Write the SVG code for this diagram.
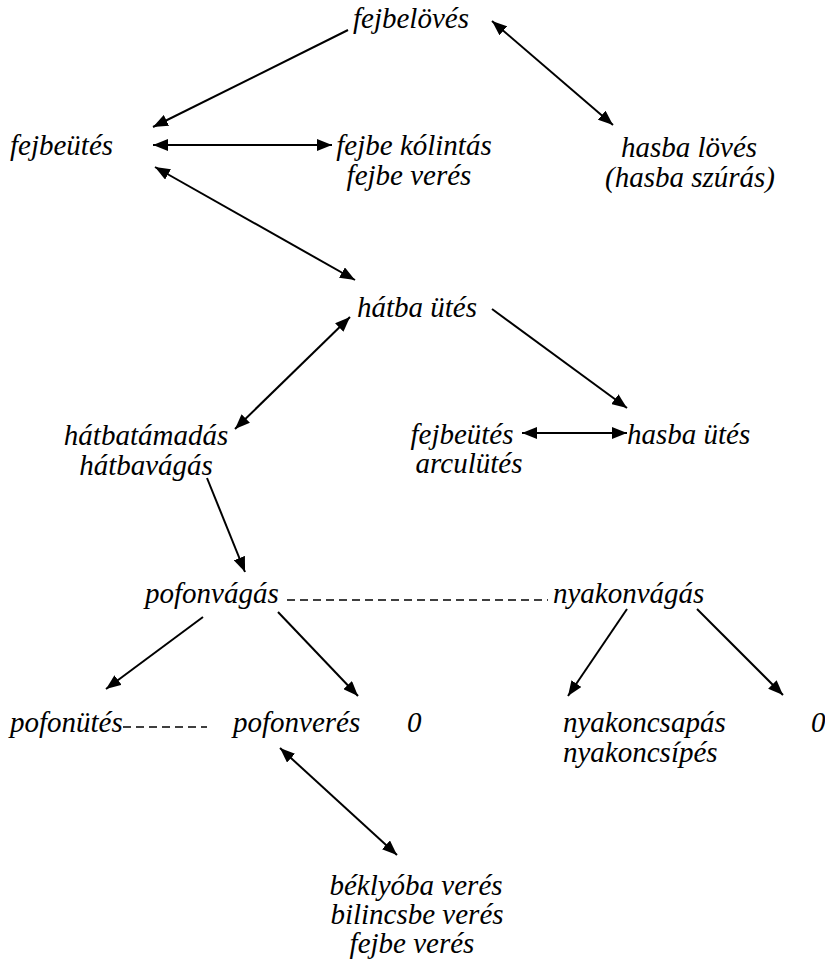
<svg xmlns="http://www.w3.org/2000/svg" width="825" height="963" viewBox="0 0 825 963">
<style>
text{font-family:"Liberation Serif","Times New Roman",serif;font-style:italic;font-size:29px;fill:#000}
.c{text-anchor:middle}
.ln{stroke:#000;stroke-width:2;fill:none}
.d{stroke:#000;stroke-width:1.6;stroke-dasharray:8,5;fill:none}
</style>
<defs>
<marker id="ah" viewBox="0 0 15 12" refX="15" refY="6" markerWidth="15" markerHeight="12" markerUnits="userSpaceOnUse" orient="auto-start-reverse">
<path d="M0,0 L15,6 L0,12 z" fill="#000"/>
</marker>
</defs>
<rect width="825" height="963" fill="#fff"/>
<g id="connectors">
<line class="ln" x1="348" y1="30" x2="153" y2="127" marker-end="url(#ah)"/>
<line class="ln" x1="492" y1="21" x2="613" y2="125" marker-start="url(#ah)" marker-end="url(#ah)"/>
<line class="ln" x1="153" y1="145" x2="332" y2="145" marker-start="url(#ah)" marker-end="url(#ah)"/>
<line class="ln" x1="155" y1="167" x2="355" y2="280" marker-start="url(#ah)" marker-end="url(#ah)"/>
<line class="ln" x1="492" y1="309" x2="627" y2="408" marker-end="url(#ah)"/>
<line class="ln" x1="350" y1="317" x2="235" y2="429" marker-start="url(#ah)" marker-end="url(#ah)"/>
<line class="ln" x1="522" y1="433" x2="627" y2="433" marker-start="url(#ah)" marker-end="url(#ah)"/>
<line class="ln" x1="207" y1="478" x2="245" y2="572" marker-end="url(#ah)"/>
<line class="d" x1="287" y1="600" x2="548" y2="600"/>
<line class="ln" x1="203" y1="617" x2="106" y2="689" marker-end="url(#ah)"/>
<line class="ln" x1="278" y1="612" x2="358" y2="696" marker-end="url(#ah)"/>
<line class="ln" x1="627" y1="609" x2="568" y2="696" marker-end="url(#ah)"/>
<line class="ln" x1="697" y1="609" x2="783" y2="695" marker-end="url(#ah)"/>
<line class="d" x1="123" y1="727" x2="207" y2="727"/>
<line class="ln" x1="280" y1="748" x2="397" y2="855" marker-start="url(#ah)" marker-end="url(#ah)"/>
</g>
<g font-family="Liberation Serif, Times New Roman, serif" font-style="italic">
<g id="fejbeloves"><text class="c" x="411" y="28">fejbelövés</text></g>
<g id="fejbeutes"><text x="10" y="155">fejbeütés</text></g>
<g id="fejbe-kolintas"><text class="c" x="414" y="155">fejbe kólintás</text><text class="c" x="409" y="185">fejbe verés</text></g>
<g id="hasba-loves"><text class="c" x="689" y="157">hasba lövés</text><text class="c" x="690" y="187">(hasba szúrás)</text></g>
<g id="hatba-utes"><text class="c" x="417" y="317">hátba ütés</text></g>
<g id="hatbatamadas"><text class="c" x="146" y="445">hátbatámadás</text><text class="c" x="146" y="475">hátbavágás</text></g>
<g id="fejbeutes2"><text class="c" x="462" y="444">fejbeütés</text><text class="c" x="469" y="473">arculütés</text></g>
<g id="hasba-utes"><text x="627" y="444">hasba ütés</text></g>
<g id="pofonvagas"><text x="145" y="603">pofonvágás</text></g>
<g id="nyakonvagas"><text x="553" y="603">nyakonvágás</text></g>
<g id="pofonutes"><text x="10" y="732">pofonütés</text></g>
<g id="pofonveres"><text x="233" y="732">pofonverés</text></g>
<g id="zero1"><text x="407" y="732">0</text></g>
<g id="nyakoncsapas"><text x="563" y="732">nyakoncsapás</text><text x="563" y="762">nyakoncsípés</text></g>
<g id="zero2"><text x="811" y="732">0</text></g>
<g id="beklyoba"><text class="c" x="416" y="895">béklyóba verés</text><text class="c" x="417" y="924">bilincsbe verés</text><text class="c" x="412" y="953">fejbe verés</text></g>
</g>
</svg>
